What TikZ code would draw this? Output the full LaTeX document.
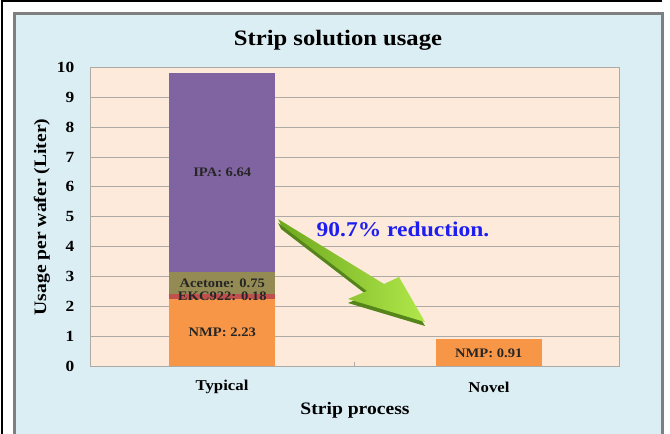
\documentclass[tikz,border=0pt]{standalone}
\usepackage{fontspec}
\setmainfont{Liberation Serif}[FakeStretch=1.12]
\usepackage{tikz}
\usetikzlibrary{positioning}
\definecolor{SUPanel}{HTML}{DBEEF4}
\definecolor{SUFrame}{HTML}{7F7F7F}
\definecolor{SUPlot}{HTML}{FDEADA}
\definecolor{SUGrid}{HTML}{ADA9A5}
\definecolor{SUPurple}{HTML}{8064A2}
\definecolor{SUOlive}{HTML}{948A54}
\definecolor{SURed}{HTML}{C0504D}
\definecolor{SUOrange}{HTML}{F79646}
\definecolor{SUBlue}{HTML}{1E1EF0}
\definecolor{SUGreenDark}{HTML}{55851A}
\definecolor{SUGreenLo}{HTML}{6FA81E}
\definecolor{SUGreenHi}{HTML}{B0E84A}
\tikzset{
  ticklab/.style={font=\bfseries\fontsize{15.5}{18}\selectfont, anchor=east, inner sep=0pt},
  barlab/.style={font=\bfseries\fontsize{13}{15}\selectfont, text=black!85, inner sep=0pt},
  catlab/.style={font=\bfseries\fontsize{15}{18}\selectfont, inner sep=0pt}
}

\begin{document}
\begin{tikzpicture}[x=1pt,y=1pt, font=\bfseries]
\useasboundingbox (0,0) rectangle (670,434);
\fill[white] (0,0) rectangle (670,434);
% panel and frame
\fill[SUPanel] (15,0) rectangle (662,420);
\draw[SUFrame, line width=3pt] (14.5,0) -- (14.5,420) -- (662,420) -- (662,0);
\draw[black, line width=2pt] (2,0) -- (2,433) -- (662,433);
% plot area, data units on y
\begin{scope}[shift={(90,68)}, y=29.85pt]
\fill[SUPlot] (0,0) rectangle (529,10);
\foreach \v in {1,...,9} {\draw[SUGrid, line width=0.8pt] (0,\v) -- (529,\v);}
\draw[SUGrid, line width=0.8pt] (0,0) rectangle (529,10);
\draw[SUGrid, line width=0.8pt] (264.5,0) -- (264.5,0.13);
\foreach \v in {0,...,10} {\node[ticklab] (tick\v) at (-15.5,\v) {\v};}
% Typical
\fill[SUOrange] (79.25,0) rectangle (185.25,2.23);
\fill[SURed] (79.25,2.23) rectangle (185.25,2.41);
\fill[SUOlive] (79.25,2.41) rectangle (185.25,3.16);
\fill[SUPurple] (79.25,3.16) rectangle (185.25,9.80);
\node[barlab] (nmpA) at (132.25,1.115) {NMP: 2.23};
\node[barlab] (ekc) at (132.25,2.32) {EKC922: 0.18};
\node[barlab] (acetone) at (132.25,2.785) {Acetone: 0.75};
\node[barlab] (ipa) at (132.25,6.48) {IPA: 6.64};
% Novel
\fill[SUOrange] (345.75,0) rectangle (451.75,0.91);
\node[barlab] (nmpB) at (398.75,0.42) {NMP: 0.91};
\end{scope}
% reduction arrow
\fill[SUGreenDark] (278,211) -- (384,146) -- (399,153) -- (425,108) -- (348,131) -- (367,139) -- (281,205) -- cycle;
\shade[left color=SUGreenLo, right color=SUGreenHi] (278,215) -- (384,150) -- (399,157) -- (425,112) -- (348,135) -- (367,143) -- (281,209) -- cycle;
\node[text=SUBlue, font=\bfseries\fontsize{21}{24}\selectfont, inner sep=0pt] (reduction) at (403,205) {90.7\% reduction.};
% titles
\node[font=\bfseries\fontsize{22}{26}\selectfont, inner sep=0pt] (title) at (338,394) {Strip solution usage};
\node[catlab] (typical) at (222,47) {Typical};
\node[catlab] (novel) at (489,47) {Novel};
\node[font=\bfseries\fontsize{17.5}{20}\selectfont, inner sep=0pt] (xtitle) at (355,24) {Strip process};
\node[font=\bfseries\fontsize{17.5}{20}\selectfont, inner sep=0pt, rotate=90] (ytitle) at (42,217) {Usage per wafer (Liter)};
\end{tikzpicture}
\end{document}
